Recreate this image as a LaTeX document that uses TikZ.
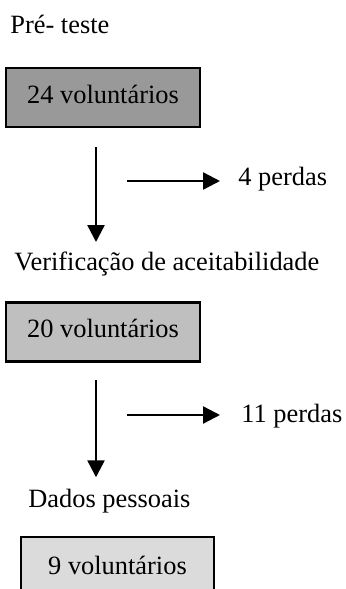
\documentclass[tikz,border=0pt]{standalone}
\usepackage{fontspec}
\setmainfont{Liberation Serif}
\usetikzlibrary{arrows.meta}
\definecolor{cinzaA}{gray}{0.6}
\definecolor{cinzaB}{gray}{0.75}
\definecolor{cinzaC}{gray}{0.86}
\tikzstyle{caixa}=[draw, line width=1.1pt, minimum width=97pt, minimum height=29.5pt, inner sep=0pt, text height=8pt, text depth=2.5pt]
\tikzstyle{seta}=[line width=1.2pt, -{Triangle[length=8.5pt,width=8.5pt]}]
\tikzstyle{rotulo}=[inner sep=0pt, anchor=base west]

\begin{document}
\begin{tikzpicture}[x=0.5pt,y=-0.5pt,font=\fontsize{13.2}{16}\selectfont]
\clip (0,0) rectangle (345,589);
\node [rotulo] (pre) at (10,33) {Pré- teste};
\node [caixa,fill=cinzaA] (b1) at (103,97.5) {24 voluntários};
\node [rotulo] (p1) at (238,185) {4 perdas};
\node [rotulo] (t2) at (14,270) {Verificação de aceitabilidade};
\node [caixa,fill=cinzaB] (b2) at (103,332) {20 voluntários};
\node [rotulo] (p2) at (241,422) {11 perdas};
\node [rotulo] (t3) at (28,507) {Dados pessoais};
\node [caixa,fill=cinzaC,minimum width=96.5pt,minimum height=33.5pt,text depth=4pt] (b3) at (117.5,570.5) {9 voluntários};
% setas
\coordinate (v1) at (96,147);
\coordinate (h1) at (127,181);
\coordinate (v2) at (96,380);
\coordinate (h2) at (127,415);
\draw [seta,shorten >=4.5pt] (v1) -- (v1 |- t2.north);
\draw [seta,shorten >=9pt] (h1) -- (h1 -| p1.west);
\draw [seta,shorten >=5.5pt] (v2) -- (v2 |- t3.north);
\draw [seta,shorten >=10.5pt] (h2) -- (h2 -| p2.west);
\end{tikzpicture}
\end{document}
